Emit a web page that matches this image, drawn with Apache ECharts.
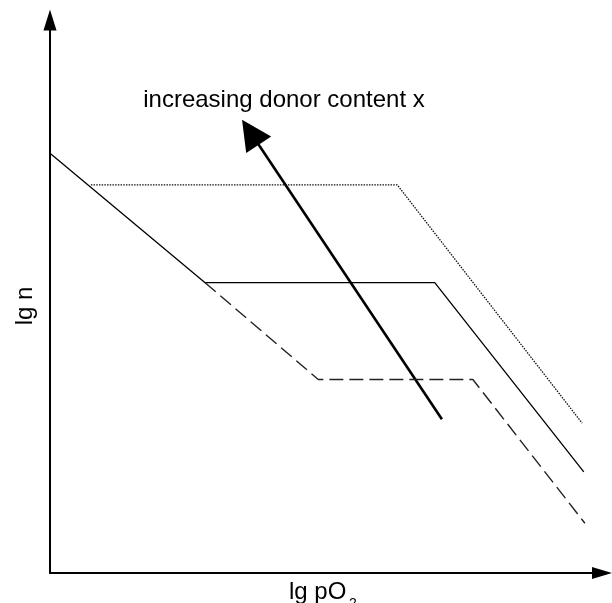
<!DOCTYPE html>
<html>
<head>
<meta charset="utf-8">
<script src="https://cdn.jsdelivr.net/npm/echarts@6/dist/echarts.min.js"></script>
<style>
  html, body { margin: 0; padding: 0; background: #fff; }
  #chart { width: 612px; height: 603px; }
</style>
</head>
<body>
<div id="chart"></div>
<script>
// Schematic values (arbitrary units on lg pO2 / lg n axes, range 0..10)
const solidX  = [0, 2.81, 6.97, 9.67];
const solidY  = [7.59, 5.25, 5.25, 1.83];
const dashedX = [2.81, 4.86, 7.66, 9.69];
const dashedY = [5.25, 3.50, 3.50, 0.90];
const dottedX = [0.74, 6.29, 9.64];
const dottedY = [7.02, 7.02, 2.71];
const arrowFrom = [7.10, 2.78];
const arrowTo   = [3.63, 7.97];
const arrowText = 'increasing donor content x';
const xName = 'lg pO';
const xNameSub = '2';
const yName = 'lg n';

const pairs = (xs, ys) => xs.map((x, i) => [x, ys[i]]);
const FONT = '"Liberation Sans", Arial, sans-serif';

const chart = echarts.init(document.getElementById('chart'));
const axisCommon = {
  type: 'value', min: 0, max: 10,
  splitLine: { show: false }, axisTick: { show: false }, axisLabel: { show: false }
};
chart.setOption({
  animation: false,
  backgroundColor: '#fff',
  grid: { left: 50, right: 10, top: 20, bottom: 30 },
  xAxis: Object.assign({}, axisCommon, {
    axisLine: { show: true, symbol: ['none', 'triangle'], symbolSize: [12, 20],
      lineStyle: { color: '#000', width: 2 } }
  }),
  yAxis: Object.assign({}, axisCommon, {
    axisLine: { show: true, symbol: ['none', 'triangle'], symbolSize: [13, 21],
      lineStyle: { color: '#000', width: 2 } }
  }),
  series: [
    { type: 'line', data: pairs(solidX, solidY), symbol: 'none',
      lineStyle: { color: '#000', width: 1.3 } },
    { type: 'line', data: pairs(dashedX, dashedY), symbol: 'none',
      lineStyle: { color: '#222', width: 1.4, type: [14, 6] } },
    { type: 'line', data: pairs(dottedX, dottedY), symbol: 'none',
      lineStyle: { color: '#111', width: 1.3, type: [1.5, 1.2] } },
    { type: 'lines', coordinateSystem: 'cartesian2d',
      symbol: ['none', 'triangle'], symbolSize: [18, 30],
      lineStyle: { color: '#000', width: 2.6, opacity: 1 },
      data: [{ coords: [arrowFrom, arrowTo] }] }
  ],
  graphic: [
    { type: 'text', x: 284, y: 100,
      style: { text: arrowText, font: '24px ' + FONT, fill: '#000',
        textAlign: 'center', textVerticalAlign: 'middle' } },
    { type: 'text', x: 289, y: 580,
      style: { text: xName, font: '24px ' + FONT, fill: '#000',
        textAlign: 'left', textVerticalAlign: 'top' } },
    { type: 'text', x: 349, y: 597,
      style: { text: xNameSub, font: '14px ' + FONT, fill: '#000',
        textAlign: 'left', textVerticalAlign: 'top' } },
    { type: 'text', x: 25, y: 306, rotation: Math.PI / 2,
      style: { text: yName, font: '24px ' + FONT, fill: '#000',
        textAlign: 'center', textVerticalAlign: 'middle' } }
  ]
});
</script>
</body>
</html>
